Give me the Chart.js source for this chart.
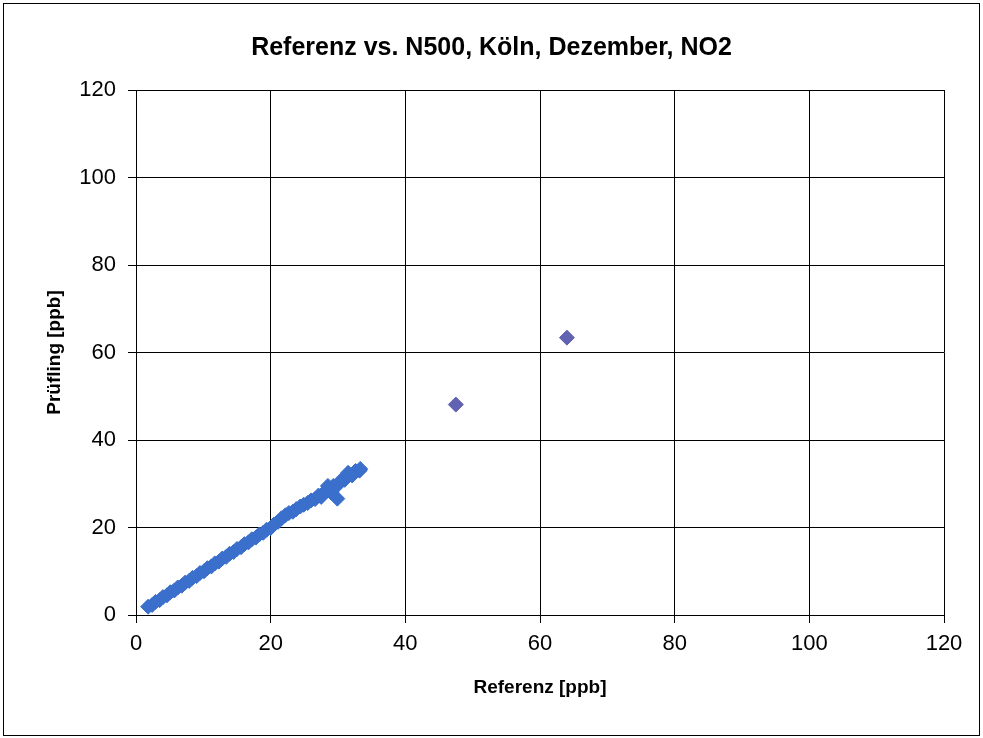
<!DOCTYPE html>
<html>
<head>
<meta charset="utf-8">
<script src="https://cdn.jsdelivr.net/npm/chart.js@4/dist/chart.umd.min.js"></script>
<style>
  html, body { margin: 0; padding: 0; background: #fff; }
  #wrap { position: relative; width: 983px; height: 738px; }
</style>
</head>
<body>
<div id="wrap"><canvas id="c" width="983" height="738"></canvas></div>
<script>
const chartTitle = "Referenz vs. N500, Köln, Dezember, NO2";
const xAxisTitle = "Referenz [ppb]";
const yAxisTitle = "Prüfling [ppb]";
const axisTicks = [0, 20, 40, 60, 80, 100, 120];

const referenzMain = [1.8, 2.4, 2.9, 3.5, 4.0, 4.6, 5.1, 5.7, 6.2, 6.8, 7.3, 7.9, 8.4, 9.0, 9.5, 10.1, 10.6, 11.2, 11.7, 12.3, 12.8, 13.4, 13.9, 14.5, 15.0, 15.6, 16.1, 16.7, 17.2, 17.8, 18.3, 18.9, 19.4, 20.0, 20.5, 21.1, 21.6, 22.2, 22.7, 23.3, 23.8, 24.4, 24.9, 25.5, 26.0, 26.6, 27.1, 27.7, 28.2, 28.8, 29.3, 29.9, 30.4, 31.0, 31.5, 32.1, 32.6, 33.2, 28.5, 31.5, 29.0, 33.3, 27.5, 29.9];
const pruefMain    = [1.9, 2.3, 3.0, 3.4, 4.1, 4.5, 5.2, 5.6, 6.3, 6.7, 7.4, 7.8, 8.5, 8.9, 9.6, 10.0, 10.7, 11.1, 11.8, 12.2, 12.9, 13.3, 14.0, 14.4, 15.1, 15.5, 16.2, 16.6, 17.3, 17.7, 18.4, 18.8, 19.5, 19.9, 20.7, 21.3, 22.1, 22.8, 23.3, 23.6, 24.2, 24.8, 25.2, 25.6, 26.2, 26.5, 27.3, 27.6, 28.4, 28.3, 29.5, 29.6, 30.7, 30.9, 31.8, 31.9, 32.9, 33.0, 29.5, 32.5, 28.0, 33.4, 27.0, 26.6];

const referenzHigh = [47.5, 64.0];
const pruefHigh    = [48.1, 63.4];

const FONT = "'Liberation Sans', Arial, sans-serif";

const mainPts = referenzMain.map((v, i) => ({ x: v, y: pruefMain[i] }));
const highPts = referenzHigh.map((v, i) => ({ x: v, y: pruefHigh[i] }));

const framePlugin = {
  id: 'frame',
  beforeDraw(chart) {
    const ctx = chart.ctx;
    ctx.save();
    ctx.fillStyle = '#ffffff';
    ctx.fillRect(0, 0, chart.width, chart.height);
    ctx.restore();
  },
  afterDraw(chart) {
    const ctx = chart.ctx;
    ctx.save();
    ctx.strokeStyle = '#000';
    ctx.lineWidth = 1;
    ctx.strokeRect(3.5, 3.5, 976, 732);
    ctx.restore();
  }
};

new Chart(document.getElementById('c'), {
  type: 'scatter',
  data: {
    datasets: [
      {
        data: mainPts,
        pointStyle: 'rectRot',
        pointRadius: 7.5,
        pointHoverRadius: 7.5,
        backgroundColor: '#3b6fcc',
        borderColor: '#3b6fcc',
        borderWidth: 1
      },
      {
        data: highPts,
        pointStyle: 'rectRot',
        pointRadius: 7.5,
        pointHoverRadius: 7.5,
        backgroundColor: '#6262b2',
        borderColor: '#6262b2',
        borderWidth: 1
      }
    ]
  },
  options: {
    responsive: false,
    animation: false,
    events: [],
    layout: { padding: { left: 0, right: 0, top: 0, bottom: 0 } },
    plugins: {
      legend: { display: false },
      tooltip: { enabled: false },
      title: {
        display: true,
        text: chartTitle,
        color: '#000',
        font: { family: FONT, size: 25, weight: 'bold' },
        padding: { top: 33, bottom: 27 }
      }
    },
    scales: {
      x: {
        type: 'linear',
        min: 0, max: 120,
        afterBuildTicks(scale) { scale.ticks = axisTicks.map(v => ({ value: v })); },
        afterFit(scale) { scale.height = 123; },
        grid: { color: '#000', lineWidth: 1, tickLength: 8, tickColor: '#000' },
        border: { color: '#000', width: 1 },
        ticks: { color: '#000', font: { family: FONT, size: 22 }, padding: 8, maxRotation: 0 },
        title: {
          display: true, text: xAxisTitle, color: '#000',
          font: { family: FONT, size: 19, weight: 'bold' },
          padding: { top: 0, bottom: 38.6 }
        }
      },
      y: {
        type: 'linear',
        min: 0, max: 120,
        afterBuildTicks(scale) { scale.ticks = axisTicks.map(v => ({ value: v })); },
        afterFit(scale) { scale.width = 136; },
        grid: { color: '#000', lineWidth: 1, tickLength: 8, tickColor: '#000' },
        border: { color: '#000', width: 1 },
        ticks: { color: '#000', font: { family: FONT, size: 22 }, padding: 12 },
        title: {
          display: true, text: yAxisTitle, color: '#000',
          font: { family: FONT, size: 19, weight: 'bold' },
          padding: { top: 43.6, bottom: 0 }
        }
      },
      yRightSpace: {
        type: 'linear',
        position: 'right',
        min: 0, max: 120,
        afterFit(scale) { scale.width = 39; },
        grid: { display: false, drawTicks: false },
        border: { display: false },
        ticks: { display: false }
      }
    }
  },
  plugins: [framePlugin]
});
</script>
</body>
</html>
